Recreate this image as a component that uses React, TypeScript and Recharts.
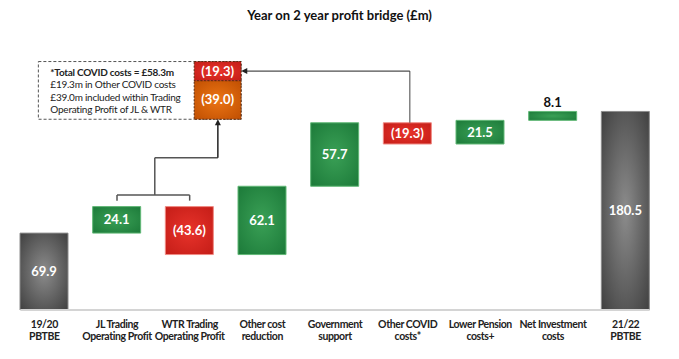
import { BarChart, Bar, XAxis, YAxis, Cell, LabelList, ReferenceLine, ReferenceArea } from 'recharts'

const categories = [
  '19/20\nPBTBE',
  'JL Trading\nOperating Profit',
  'WTR Trading\nOperating Profit',
  'Other cost\nreduction',
  'Government\nsupport',
  'Other COVID\ncosts*',
  'Lower Pension\ncosts+',
  'Net Investment\ncosts',
  '21/22\nPBTBE',
]
const changes = [69.9, 24.1, -43.6, 62.1, 57.7, -19.3, 21.5, 8.1, 180.5]
const isTotal = [true, false, false, false, false, false, false, false, true]

// covid note: red part = other covid costs, orange part = inside trading profit
const covidOther = 19.3
const covidTrading = 39.0
const covidNote = [
  '*Total COVID costs = £58.3m',
  '£19.3m in Other COVID costs',
  '£39.0m included within Trading',
  'Operating Profit of JL & WTR',
]

const FONT = 'Lato, "Open Sans", sans-serif'

function fmt(v: number) {
  return v < 0 ? `(${Math.abs(v).toFixed(1)})` : v.toFixed(1)
}

let running = 0
const rows = categories.map((name, i) => {
  const v = changes[i]
  let base: number
  if (isTotal[i]) {
    base = 0
    running = v
  } else {
    base = v < 0 ? running + v : running
    running += v
  }
  return {
    name,
    pos: i + 0.5,
    base,
    size: Math.abs(v),
    label: fmt(v),
    kind: isTotal[i] ? 'total' : v < 0 ? 'down' : 'up',
  }
})

const fills: Record<string, string> = { total: 'url(#gGray)', up: 'url(#gGreen)', down: 'url(#gRed)' }
const strokes: Record<string, string> = { total: '#8c8c8c', up: '#62b877', down: '#f08a84' }

// annotation layout (numeric x: category i sits at i + 0.5)
const noteBase = 173.4
const noteScale = 0.9
const noteMid = noteBase + covidTrading * noteScale
const noteTop = noteMid + covidOther * noteScale

function CategoryTick(props: any) {
  const { x, y, payload } = props
  const lines = String(payload.value).split('\n')
  return (
    <text
      x={x}
      y={y}
      textAnchor="middle"
      fontFamily={FONT}
      fontWeight={700}
      fontSize={10.5}
      letterSpacing={-0.4}
      fill="#222"
    >
      {lines.map((l, i) => (
        <tspan key={i} x={x} dy={i === 0 ? 18 : 12}>
          {l}
        </tspan>
      ))}
    </text>
  )
}

function ValueLabel(props: any) {
  const { x, y, width, height, index } = props
  const r = rows[index]
  if (height < 14) {
    return (
      <text x={x + width / 2} y={y - 4} textAnchor="middle" fontFamily={FONT} fontWeight={700} fontSize={13} fill="#111">
        {r.label}
      </text>
    )
  }
  return (
    <text
      x={x + width / 2}
      y={y + height / 2}
      dy={4.5}
      textAnchor="middle"
      fontFamily={FONT}
      fontWeight={700}
      fontSize={13}
      fill="#fff"
    >
      {r.label}
    </text>
  )
}

function Arrow(props: any) {
  const { x1, y1, x2, y2, stroke, strokeWidth } = props
  const a = Math.atan2(y2 - y1, x2 - x1)
  const s = 6
  const p1 = `${x2},${y2}`
  const p2 = `${x2 - s * Math.cos(a) + 3 * Math.sin(a)},${y2 - s * Math.sin(a) - 3 * Math.cos(a)}`
  const p3 = `${x2 - s * Math.cos(a) - 3 * Math.sin(a)},${y2 - s * Math.sin(a) + 3 * Math.cos(a)}`
  return (
    <g>
      <line x1={x1} y1={y1} x2={x2 - (s - 1) * Math.cos(a)} y2={y2 - (s - 1) * Math.sin(a)} stroke={stroke} strokeWidth={strokeWidth} />
      <polygon points={`${p1} ${p2} ${p3}`} fill={stroke} />
    </g>
  )
}

function NoteBox(props: any) {
  const { x, y, width, height } = props
  return (
    <g>
      <rect x={x} y={y} width={width} height={height} fill="#fff" stroke="#555" strokeDasharray="3 2" strokeWidth={1} />
      {covidNote.map((t, i) => (
        <text
          key={i}
          x={x + 12}
          y={y + 14 + i * 12.5}
          fontFamily={FONT}
          fontSize={10}
          letterSpacing={-0.25}
          fontWeight={i === 0 ? 700 : 400}
          fill="#222"
        >
          {t}
        </text>
      ))}
    </g>
  )
}

function NoteBar(fill: string, text: string) {
  return (props: any) => {
    const { x, y, width, height } = props
    return (
      <g>
        <rect x={x} y={y} width={width} height={height} fill={fill} stroke="#5a2a10" strokeDasharray="2 1.5" strokeWidth={1} />
        <text x={x + width / 2} y={y + height / 2 + 4.5} textAnchor="middle" fontFamily={FONT} fontWeight={700} fontSize={13} fill="#fff">
          {text}
        </text>
      </g>
    )
  }
}

export default function App() {
  const line = '#555'
  return (
    <div style={{ position: 'absolute', left: 0, top: 0, width: 679, height: 359, background: '#fff' }}>
      <div
        style={{
          position: 'absolute',
          left: 0,
          top: 7,
          width: 679,
          textAlign: 'center',
          fontFamily: FONT,
          fontWeight: 700,
          fontSize: 13,
          color: '#111',
        }}
      >
        Year on 2 year profit bridge (£m)
      </div>
      <BarChart
        width={679}
        height={359}
        data={rows}
        margin={{ top: 35, right: 17, bottom: 0, left: 8 }}
        barCategoryGap={0}
        style={{ position: 'absolute', left: 0, top: 0 }}
      >
        <defs>
          <radialGradient id="gGray" cx="50%" cy="50%" r="70%">
            <stop offset="0%" stopColor="#8c8c8c" />
            <stop offset="100%" stopColor="#404040" />
          </radialGradient>
          <radialGradient id="gGreen" cx="50%" cy="50%" r="70%">
            <stop offset="0%" stopColor="#3aa056" />
            <stop offset="100%" stopColor="#1c7a39" />
          </radialGradient>
          <radialGradient id="gRed" cx="50%" cy="50%" r="70%">
            <stop offset="0%" stopColor="#e8332b" />
            <stop offset="100%" stopColor="#c41d17" />
          </radialGradient>
          <radialGradient id="gOrange" cx="50%" cy="50%" r="70%">
            <stop offset="0%" stopColor="#ec7514" />
            <stop offset="100%" stopColor="#c04f02" />
          </radialGradient>
        </defs>
        <XAxis
          dataKey="name"
          interval={0}
          tick={<CategoryTick />}
          tickLine={false}
          axisLine={false}
          tickSize={0}
          tickMargin={0}
          height={49}
        />
        <XAxis xAxisId="n" dataKey="pos" type="number" domain={[0, 9]} hide allowDataOverflow />
        <YAxis hide domain={[0, 250]} allowDataOverflow />
        <ReferenceLine
          xAxisId="n"
          segment={[{ x: 0.17, y: 0 }, { x: 8.83, y: 0 }]}
          stroke="#d4d4d4"
          strokeWidth={2}
        />
        <Bar dataKey="base" stackId="w" fill="transparent" barSize={48} isAnimationActive={false} />
        <Bar dataKey="size" stackId="w" barSize={48} isAnimationActive={false}>
          {rows.map((r, i) => (
            <Cell key={i} fill={fills[r.kind]} stroke={strokes[r.kind]} strokeWidth={1} />
          ))}
          <LabelList dataKey="size" content={<ValueLabel />} />
        </Bar>

        {/* bracket under JL / WTR */}
        <ReferenceLine xAxisId="n" segment={[{ x: 1.5, y: 99.4 }, { x: 1.5, y: 104.5 }]} stroke={line} strokeWidth={1.5} />
        <ReferenceLine xAxisId="n" segment={[{ x: 2.5, y: 99.4 }, { x: 2.5, y: 104.5 }]} stroke={line} strokeWidth={1.5} />
        <ReferenceLine xAxisId="n" segment={[{ x: 1.5, y: 104.5 }, { x: 2.5, y: 104.5 }]} stroke={line} strokeWidth={1.5} />
        <ReferenceLine xAxisId="n" segment={[{ x: 2.02, y: 104.5 }, { x: 2.02, y: 138.5 }]} stroke={line} strokeWidth={1.5} />
        <ReferenceLine xAxisId="n" segment={[{ x: 2.02, y: 138.5 }, { x: 2.888, y: 138.5 }]} stroke={line} strokeWidth={1.5} />
        <ReferenceLine
          xAxisId="n"
          segment={[{ x: 2.888, y: 138.5 }, { x: 2.888, y: noteBase }]}
          stroke="#222"
          strokeWidth={1.5}
          shape={<Arrow />}
        />

        {/* connector from other covid costs */}
        <ReferenceLine xAxisId="n" segment={[{ x: 5.53, y: 170.2 }, { x: 5.53, y: (noteMid + noteTop) / 2 }]} stroke="#444" strokeWidth={1} />
        <ReferenceLine
          xAxisId="n"
          segment={[{ x: 5.53, y: (noteMid + noteTop) / 2 }, { x: 3.21, y: (noteMid + noteTop) / 2 }]}
          stroke="#222"
          strokeWidth={1}
          shape={<Arrow />}
        />

        {/* covid note */}
        <ReferenceArea xAxisId="n" x1={0.418} x2={3.208} y1={noteBase} y2={noteTop} shape={<NoteBox />} ifOverflow="visible" />
        <ReferenceArea
          xAxisId="n"
          x1={2.562}
          x2={3.208}
          y1={noteBase}
          y2={noteMid}
          shape={NoteBar('url(#gOrange)', fmt(-covidTrading))}
          ifOverflow="visible"
        />
        <ReferenceArea
          xAxisId="n"
          x1={2.562}
          x2={3.208}
          y1={noteMid}
          y2={noteTop}
          shape={NoteBar('url(#gRed)', fmt(-covidOther))}
          ifOverflow="visible"
        />
      </BarChart>
    </div>
  )
}
